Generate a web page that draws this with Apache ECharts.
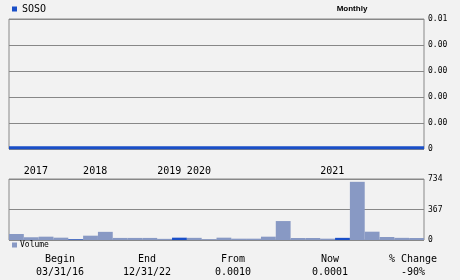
<!DOCTYPE html>
<html>
<head>
<meta charset="utf-8">
<script src="https://cdn.jsdelivr.net/npm/echarts@6/dist/echarts.min.js"></script>
<style>
html,body{margin:0;padding:0;background:#f2f2f2;}
#c{width:460px;height:280px;}
</style>
</head>
<body>
<div id="c"></div>
<script>
// ---- data ----
const symbolName = 'SOSO';
const periodLabel = 'Monthly';
const periods = ['16Q1','16Q2','16Q3','16Q4','17Q1','17Q2','17Q3','17Q4','18Q1','18Q2','18Q3','18Q4','19Q1','19Q2','19Q3','19Q4','20Q1','20Q2','20Q3','20Q4','21Q1','21Q2','21Q3','21Q4','22Q1','22Q2','22Q3','22Q4'];
const priceValues = [0.0001,0.0001,0.0001,0.0001,0.0001,0.0001,0.0001,0.0001,0.0001,0.0001,0.0001,0.0001,0.0001,0.0001,0.0001,0.0001,0.0001,0.0001,0.0001,0.0001,0.0001,0.0001,0.0001,0.0001,0.0001,0.0001,0.0001,0.0001];
const volumeValues = [72,33,40,28,8,52,98,25,25,25,14,28,26,10,28,16,16,40,228,24,24,16,26,700,100,36,26,24];
const blueVolumeIdx = [4,11,22];
const yearTickPos = [1,5,10,12,21];
const yearTickLabels = ['2017','2018','2019','2020','2021'];
const priceTicks = {min:0, max:0.01, interval:0.002};
const volumeTicks = {min:0, max:734, interval:367};
const summaryHeads = ['Begin','End','From','Now','% Change'];
const summaryVals = ['03/31/16','12/31/22','0.0010','0.0001','-90%'];

// ---- chart ----
const MONO = 'DejaVu Sans Mono';
const chart = echarts.init(document.getElementById('c'), null, {renderer:'canvas'});
const colCenters = [60,147,233,330,413];
const graphics = [];
summaryHeads.forEach((h,i)=>{
  graphics.push({type:'text', x:colCenters[i], y:259, style:{text:h, font:'10px "DejaVu Sans Mono"', fill:'#000', textAlign:'center', textVerticalAlign:'middle'}});
  graphics.push({type:'text', x:colCenters[i], y:272, style:{text:summaryVals[i], font:'10px "DejaVu Sans Mono"', fill:'#000', textAlign:'center', textVerticalAlign:'middle'}});
});
graphics.push({type:'text', x:352, y:9, style:{text:periodLabel, font:'bold 8px "Liberation Sans"', fill:'#000', textAlign:'center', textVerticalAlign:'middle'}});

chart.setOption({
  animation:false,
  backgroundColor:'#f2f2f2',
  legend:[
    {data:[symbolName], left:12, top:4, padding:0, itemWidth:5, itemHeight:5, icon:'rect', itemGap:5,
     textStyle:{fontFamily:MONO, fontSize:10, color:'#000'}},
    {data:['Volume'], left:12, top:241, padding:0, itemWidth:5, itemHeight:5, icon:'rect', itemGap:3,
     textStyle:{fontFamily:MONO, fontSize:8, color:'#000', padding:[0,0,0,-2]}}
  ],
  grid:[
    {left:9, right:36, top:19, height:130, show:true, borderColor:'#888', borderWidth:1, backgroundColor:'transparent'},
    {left:9, right:36, top:179, height:61, show:true, borderColor:'#888', borderWidth:1, backgroundColor:'transparent'}
  ],
  xAxis:[
    {type:'category', gridIndex:0, data:periods, boundaryGap:false, axisLine:{show:false}, axisTick:{show:false}, axisLabel:{show:false}, splitLine:{show:false}},
    {type:'category', gridIndex:1, data:periods, boundaryGap:true, axisLine:{show:false}, axisTick:{show:false}, axisLabel:{show:false}, splitLine:{show:false}},
    {type:'value', gridIndex:0, min:0, max:periods.length, interval:1, position:'bottom',
     axisLine:{show:false}, axisTick:{show:false}, splitLine:{show:false},
     axisLabel:{show:true, margin:17, align:'left', fontFamily:MONO, fontSize:10, color:'#000', hideOverlap:false,
       formatter:function(v){const k=yearTickPos.indexOf(v); return k>=0?yearTickLabels[k]:'';}}}
  ],
  yAxis:[
    {type:'value', gridIndex:0, position:'right', min:priceTicks.min, max:priceTicks.max, interval:priceTicks.interval,
     axisLine:{show:false}, axisTick:{show:false},
     splitLine:{show:true, lineStyle:{color:'#888', width:1}},
     axisLabel:{margin:4, fontFamily:MONO, fontSize:8, color:'#000', padding:[4,0,0,0],
       formatter:function(v){return v===0?'0':(Math.floor(v*100+1e-9)/100).toFixed(2);}}},
    {type:'value', gridIndex:1, position:'right', min:volumeTicks.min, max:volumeTicks.max, interval:volumeTicks.interval,
     axisLine:{show:false}, axisTick:{show:false},
     splitLine:{show:true, lineStyle:{color:'#888', width:1}},
     axisLabel:{margin:4, fontFamily:MONO, fontSize:8, color:'#000', padding:[4,0,0,0]}}
  ],
  series:[
    {name:symbolName, type:'line', xAxisIndex:0, yAxisIndex:0, data:priceValues, symbol:'none',
     lineStyle:{color:'#1a4fc8', width:3}, itemStyle:{color:'#1a4fc8'}},
    {name:'Volume', type:'bar', xAxisIndex:1, yAxisIndex:1, barCategoryGap:'0%',
     itemStyle:{color:'#8899c4'},
     data:volumeValues.map((v,i)=> blueVolumeIdx.indexOf(i)>=0 ? {value:v, itemStyle:{color:'#1a4fc8'}} : v)}
  ],
  graphic:graphics
});
</script>
</body>
</html>
